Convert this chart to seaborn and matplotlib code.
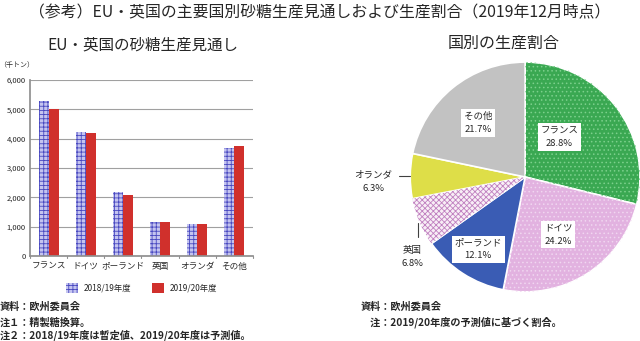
import numpy as np
import pandas as pd
import matplotlib
matplotlib.use("Agg")
import matplotlib.pyplot as plt
from matplotlib.patches import Wedge
import seaborn as sns

# ---- data ----
countries = ["フランス", "ドイツ", "ポーランド", "英国", "オランダ", "その他"]
years = ["2018/19年度", "2019/20年度"]
prod_2018 = [5300, 4230, 2200, 1150, 1110, 3700]
prod_2019 = [5000, 4200, 2100, 1170, 1100, 3760]
share_countries = ["フランス", "ドイツ", "ポーランド", "英国", "オランダ", "その他"]
share_pct = [28.8, 24.2, 12.1, 6.8, 6.3, 21.7]
yticks = [0, 1000, 2000, 3000, 4000, 5000, 6000]

sns.set_theme(style="white")
FONT = ["Noto Sans CJK JP", "DejaVu Sans"]
plt.rcParams["font.family"] = FONT
plt.rcParams["hatch.linewidth"] = 0.6

fig = plt.figure(figsize=(6.4, 3.41), dpi=100)

fig.text(0.5, 0.962, "（参考）EU・英国の主要国別砂糖生産見通しおよび生産割合（2019年12月時点）",
         ha="center", va="center", fontsize=11.4)

# ---- bar chart ----
ax = fig.add_axes([0.047, 0.249, 0.348, 0.516])
df = pd.DataFrame({
    "country": countries * 2,
    "year": [years[0]] * len(countries) + [years[1]] * len(countries),
    "value": prod_2018 + prod_2019,
})
sns.barplot(data=df, x="country", y="value", hue="year", ax=ax,
            palette=["#c4c4f0", "#d0302c"], width=0.54, gap=0,
            saturation=1, legend=True)
n = len(countries)
for p in ax.patches[:n]:
    p.set_hatch("++++")
    p.set_edgecolor("#4848c0")
    p.set_linewidth(0)
for p in ax.patches[n:2 * n]:
    p.set_linewidth(0)

ax.set_ylim(0, 6000)
ax.set_yticks(yticks)
ax.set_yticklabels([f"{v:,}" for v in yticks], fontsize=5.5)
ax.set_xlabel("")
ax.set_ylabel("")
ax.tick_params(axis="x", labelsize=6.2, length=0, pad=4)
ax.tick_params(axis="y", length=0, pad=3)
ax.grid(axis="y", color="#a0a0a0", linewidth=0.8)
ax.set_axisbelow(True)
for s in ["top", "right"]:
    ax.spines[s].set_visible(False)
ax.spines["left"].set_color("#909090")
ax.spines["bottom"].set_color("#909090")
ax.set_xlim(-0.5, n - 0.5)
for k in range(n + 1):
    ax.plot([k - 0.5, k - 0.5], [0, -60], color="#909090", lw=0.8, clip_on=False)

ax.text(-0.14, 1.085, "（千トン）", transform=ax.transAxes, fontsize=5, ha="left", va="center")
fig.text(0.223, 0.868, "EU・英国の砂糖生産見通し", ha="center", va="center", fontsize=11.2)

leg = ax.legend(loc="upper center", bbox_to_anchor=(0.5, -0.11), ncol=2, frameon=False,
                fontsize=6, handlelength=1.5, handleheight=1.4, columnspacing=2.5,
                handletextpad=0.6)
hs = leg.legend_handles
hs[0].set_hatch("++++")
hs[0].set_edgecolor("#4848c0")
hs[0].set_linewidth(0)
hs[1].set_linewidth(0)

notes_l = ["資料：欧州委員会", "注１：精製糖換算。", "注２：2018/19年度は暫定値、2019/20年度は予測値。"]
note_y = [0.100, 0.055, 0.018]
for t, y in zip(notes_l, note_y):
    fig.text(0.0, y, t, fontsize=7.3, ha="left", va="center", fontweight="bold")

# ---- pie chart ----
ax2 = fig.add_axes([0.641, 0.144, 0.359, 0.674])
colors = ["#3aa852", "#e2b2e0", "#3a5cb4", "#f8eef6", "#dede48", "#c2c2c2"]
wedges, _ = ax2.pie(share_pct, colors=colors, startangle=90, counterclock=False,
                    wedgeprops=dict(edgecolor="white", linewidth=1.2))
hatches = ["....", "....", None, "xxxxxx", None, None]
hatch_cols = ["#7cd08c", "#f0d6f0", None, "#c080c0", None, None]
for w, h, hc in zip(wedges, hatches, hatch_cols):
    if h:
        ov = Wedge(w.center, w.r, w.theta1, w.theta2, facecolor="none",
                   edgecolor=hc, hatch=h, linewidth=0)
        ax2.add_patch(ov)
ax2.set_xlim(-1.0, 1.0)
ax2.set_ylim(-1.0, 1.0)
ax2.set_aspect("equal")
ax2.axis("off")

# label anchor positions (text placement, in pie radius units)
label_pos = [(0.30, 0.35), (0.29, -0.50), (-0.41, -0.63), (-0.98, -0.70), (-1.32, -0.04), (-0.41, 0.47)]
boxed = [True, True, True, False, False, True]
for name, v, (lx, ly), b in zip(share_countries, share_pct, label_pos, boxed):
    ax2.text(lx, ly, f"{name}\n{v}%", ha="center", va="center", fontsize=6.8,
             linespacing=1.6,
             bbox=dict(facecolor="white", edgecolor="none", pad=2) if b else None)

ax2.plot([-1.1, -1.0], [0.01, 0.01], color="#404040", lw=0.8, clip_on=False)
ax2.plot([-0.93, -0.93], [-0.52, -0.40], color="#404040", lw=0.8, clip_on=False)

fig.text(0.787, 0.873, "国別の生産割合", ha="center", va="center", fontsize=11.5)

notes_r = ["資料：欧州委員会", "　注：2019/20年度の予測値に基づく割合。"]
for t, y in zip(notes_r, note_y):
    fig.text(0.563, y, t, fontsize=7.3, ha="left", va="center", fontweight="bold")

fig.savefig("out.png", dpi=100)
